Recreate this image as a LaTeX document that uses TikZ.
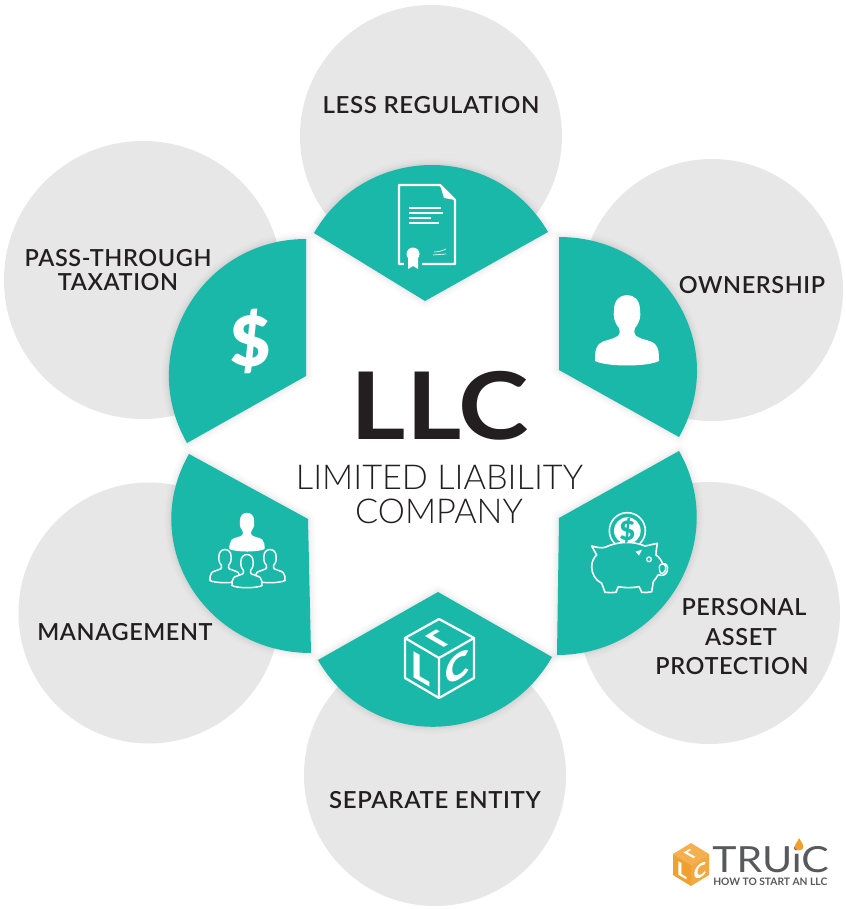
\documentclass[tikz,border=0pt]{standalone}
\usepackage{fontspec}
\setmainfont{Lato}
\newfontfamily\lightfont{Lato Light}
\newfontfamily\labelfont[LetterSpace=2.6]{Lato Semibold}
\newfontfamily\boldfont{Lato Bold}
\newfontfamily\blackfont{Lato Black}
\definecolor{teal1}{HTML}{19B8A8}
\definecolor{disc}{HTML}{E7E7E8}
\definecolor{ink}{HTML}{231F20}
\definecolor{logogrey}{HTML}{58595B}
\definecolor{logoA}{HTML}{F4B04F}
\definecolor{logoB}{HTML}{EFA02F}
\definecolor{logoC}{HTML}{F2A93F}
\newcommand{\personshape}{(-8,-2) .. controls (-13,-8) and (-14,-14) .. (-13,-20) .. controls (-13,-30) and (-7,-35) .. (0,-35) .. controls (7,-35) and (13,-30) .. (13,-20) .. controls (14,-14) and (13,-8) .. (8,-2) .. controls (7,2) and (7,4) .. (9,6) .. controls (15,10) and (24,10) .. (28,14) .. controls (32,18) and (32,24) .. (32,31) .. controls (20,37) and (-20,37) .. (-32,31) .. controls (-32,24) and (-32,18) .. (-28,14) .. controls (-24,10) and (-15,10) .. (-9,6) .. controls (-7,4) and (-7,2) .. (-8,-2) -- cycle}
\newcommand{\sectorshadow}[1]{%
  \foreach \w/\o in {14/.012,10/.016,6/.02,3/.025}{\draw[black,opacity=\o,line width=\w*.75pt,line join=round] #1;}%
  \fill[teal1] #1;}
\tikzset{
  x=.75pt,y=-.75pt,
  discs/.style={fill=disc,draw=none},
  lab/.style={font=\labelfont\fontsize{17.6pt}{20pt}\selectfont,text=ink,inner sep=0pt},
  iconline/.style={draw=white,line width=1.7pt,line join=round,line cap=round},
  iconthin/.style={draw=white,line width=1.1pt,line join=round},
  facelet/.style={text=white,inner sep=0pt,font=\blackfont\fontsize{27pt}{27pt}\selectfont},
  logolet/.style={text=white,inner sep=0pt,font=\blackfont\fontsize{14pt}{14pt}\selectfont},
}
\begin{document}
\begin{tikzpicture}
\useasboundingbox (0,0) rectangle (845,909);
\fill[white] (0,0) rectangle (845,909);
% discs
\fill[discs] (431,136) circle (131);
\fill[discs] (712,290) circle (131);
\fill[discs] (709,613) circle (131);
\fill[discs] (435,775) circle (131);
\fill[discs] (149,613) circle (130.5);
\fill[discs] (143,280) circle (139);
% sectors
\sectorshadow{(314,233) .. controls (366,143) and (496,142) .. (548,232) -- (425,301) -- cycle}
\sectorshadow{(559,237) .. controls (664,237) and (731,346) .. (679,437) -- (559,370) -- cycle}
\sectorshadow{(679,451) .. controls (731,542) and (662,655) .. (557,655) -- (559,518) -- cycle}
\sectorshadow{(318,660) .. controls (370,751) and (500,748) .. (552,657) -- (438,592) -- cycle}
\sectorshadow{(189,454) .. controls (137,545) and (206,653) .. (311,653) -- (308,519) -- cycle}
\sectorshadow{(306,239) .. controls (201,239) and (135,352) .. (187,443) -- (306,376) -- cycle}
% document icon
\draw[iconline] (440,185) -- (399,185) -- (399,264) -- (455,264) -- (455,200) -- cycle;
\fill[white] (440,185) -- (455,200) -- (444,198) -- cycle;
\foreach \xa/\ya in {441/208.5,443/213.5,431/218.5,439/223.5}{\draw[white,line width=1.5pt] (409,\ya) -- (\xa,\ya);}
\fill[teal1] (404,246) rectangle (422,270);
\fill[white] (413,254) circle (6.5);
\fill[white] (408,258) -- (408,269) -- (413,266) -- (418,269) -- (418,258) -- cycle;
\draw[white,line width=.5pt] (433,255) -- (446,254) (434,252) .. controls (438,252) and (442,251) .. (446,249);
% owner icon
\fill[white,shift={(627,330)}] \personshape;
% dollar
\node[text=white,inner sep=0pt,font=\blackfont\fontsize{52pt}{52pt}\selectfont] (dollar) at (251,341) {\$};
% piggy icon
\begin{scope}[shift={(540,440)},x=.25pt,y=-.25pt]
  \draw[iconline,line width=1.2pt] (262,272) circle (54);
  \fill[white] (262,272) circle (40);
  \draw[iconline,line width=1.2pt,fill=teal1] (155,318) .. controls (170,322) and (185,325) .. (195,322) .. controls (235,303) and (280,303) .. (315,318) .. controls (328,316) and (340,312) .. (352,310) .. controls (350,322) and (348,335) .. (348,345) .. controls (358,352) and (364,360) .. (368,372) .. controls (380,368) and (384,380) .. (382,392) .. controls (380,404) and (365,410) .. (355,404) .. controls (350,412) and (345,418) .. (340,425) .. controls (338,435) and (337,445) .. (335,455) .. controls (325,458) and (315,458) .. (305,457) .. controls (302,450) and (300,445) .. (297,440) .. controls (275,444) and (255,444) .. (235,440) .. controls (232,445) and (230,452) .. (228,457) .. controls (215,458) and (205,458) .. (195,457) .. controls (192,448) and (188,438) .. (185,430) .. controls (165,420) and (155,400) .. (155,380) .. controls (155,365) and (162,352) .. (170,345) .. controls (165,335) and (160,328) .. (155,318) -- cycle;
  \draw[iconline,line width=1pt] (358,380) .. controls (358,372) and (372,368) .. (376,378) .. controls (380,390) and (372,402) .. (362,400) .. controls (358,394) and (358,388) .. (358,380) -- cycle;
  \draw[iconline,line width=1pt] (327,358) circle (7);
  \fill[white] (287,335) -- (306,329) -- (297,347) -- cycle;
  \node[text=teal1,inner sep=0pt,font=\blackfont\fontsize{20pt}{20pt}\selectfont] (pigdollar) at (262,272) {\$};
\end{scope}
% cube icon
\draw[iconline] (439,619) -- (474,638) -- (474,678) -- (439,698) -- (405,678) -- (405,638) -- cycle;
\draw[iconline] (405,638) -- (439,658) -- (474,638) (439,658) -- (439,698);
\node[facelet,cm={1,-.577,0,1,(0,0)}] (cubeL) at (421,669) {L};
\node[facelet,cm={1,.577,0,1,(0,0)}] (cubeC) at (457,668) {C};
\node[facelet,cm={.72,.42,.72,-.42,(0,0)}] (cubeT) at (440,639) {L};
% team icon
\begin{scope}[shift={(225,566)},scale=.47]\path[iconthin,fill=teal1] \personshape;\end{scope}
\begin{scope}[shift={(270,566)},scale=.47]\path[iconthin,fill=teal1] \personshape;\end{scope}
\begin{scope}[shift={(247,571)},scale=.47]\path[iconthin,fill=teal1] \personshape;\end{scope}
\begin{scope}[shift={(247,532)},scale=.55]\fill[white] \personshape;\end{scope}
% centre
\node[text=ink,inner sep=0pt,xscale=1.14,font=\boldfont\fontsize{70pt}{70pt}\selectfont] (llc) at (440,406) {LLC};
\node[text=ink,inner sep=0pt,font=\lightfont\fontsize{25.7pt}{28pt}\selectfont] (limited) at (439.5,477) {LIMITED LIABILITY};
\node[text=ink,inner sep=0pt,font=\lightfont\fontsize{25.7pt}{28pt}\selectfont] (company) at (439,511) {COMPANY};
% labels
\node[lab,xscale=1.025] (l1) at (431,105) {LESS REGULATION};
\node[lab] (l2) at (752,285) {OWNERSHIP};
\node[lab] (l3a) at (118,258) {PASS-THROUGH};
\node[lab] (l3b) at (118,282) {TAXATION};
\node[lab] (l4) at (125,632) {MANAGEMENT};
\node[lab,xscale=1.02] (l5) at (435,800) {SEPARATE ENTITY};
\node[lab] (l6a) at (744,607) {PERSONAL};
\node[lab] (l6b) at (741,637) {ASSET};
\node[lab] (l6c) at (732,666) {PROTECTION};
% logo
\fill[logoA] (691,843) -- (709,854) -- (691,865) -- (673,854) -- cycle;
\fill[logoB] (673,854) -- (691,865) -- (691,886) -- (673,875) -- cycle;
\fill[logoC] (709,854) -- (691,865) -- (691,886) -- (709,875) -- cycle;
\node[logolet,cm={1,-.577,0,1,(0,0)}] (logoL) at (682,871) {L};
\node[logolet,cm={1,.577,0,1,(0,0)}] (logoC) at (700,871) {C};
\node[logolet,cm={.72,.42,.72,-.42,(0,0)}] (logoT) at (691,854) {L};
\node[text=logogrey,anchor=base west,inner sep=0pt,xscale=1.14,font=\rmfamily\fontsize{27pt}{27pt}\selectfont] (truic) at (712,872) {TRUiC};
\fill[logoB] (799,838) .. controls (801,842) and (804,844) .. (803,848) .. controls (802,851) and (796,851) .. (795,848) .. controls (794,844) and (798,842) .. (799,838) -- cycle;
\node[text=logogrey,anchor=base west,inner sep=0pt,font=\boldfont\fontsize{7.7pt}{8pt}\selectfont] (howto) at (713,885) {HOW TO START AN LLC};
\end{tikzpicture}
\end{document}
